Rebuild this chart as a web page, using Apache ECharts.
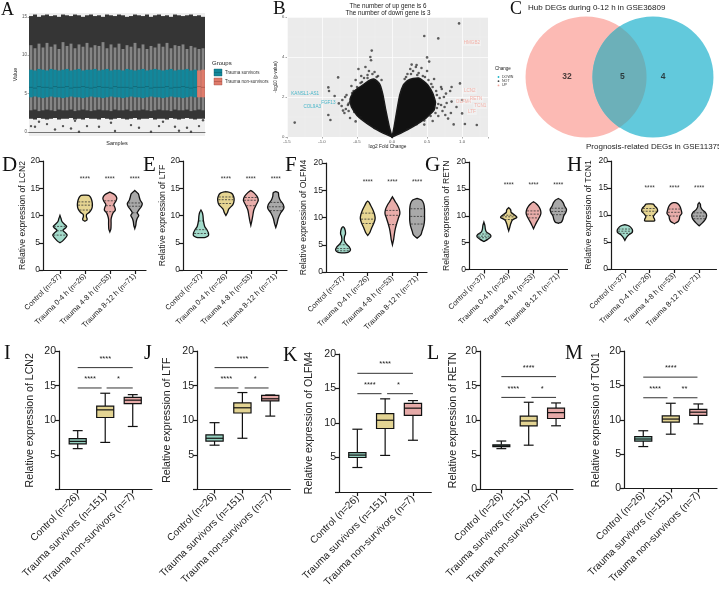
<!DOCTYPE html>
<html><head><meta charset="utf-8">
<script src="https://cdn.jsdelivr.net/npm/echarts@6/dist/echarts.min.js"></script>
<style>html,body{margin:0;padding:0;background:#fff}#c{width:719px;height:598px}</style>
</head><body><div id="c"></div>
<script>
// ================= DATA =================
// ---- Panel A: per-sample expression distribution (GSE36809) ----
const aSamples = ['S1','S2','S3','S4','S5','S6','S7','S8','S9','S10','S11','S12','S13','S14','S15','S16','S17','S18','S19','S20','S21','S22','S23','S24','S25','S26','S27','S28','S29','S30','S31','S32','S33','S34','S35','S36','S37','S38','S39','S40','S41','S42','S43','S44'];
const aGroups = ['Trauma survivors','Trauma survivors','Trauma survivors','Trauma survivors','Trauma survivors','Trauma survivors','Trauma survivors','Trauma survivors','Trauma survivors','Trauma survivors','Trauma survivors','Trauma survivors','Trauma survivors','Trauma survivors','Trauma survivors','Trauma survivors','Trauma survivors','Trauma survivors','Trauma survivors','Trauma survivors','Trauma survivors','Trauma survivors','Trauma survivors','Trauma survivors','Trauma survivors','Trauma survivors','Trauma survivors','Trauma survivors','Trauma survivors','Trauma survivors','Trauma survivors','Trauma survivors','Trauma survivors','Trauma survivors','Trauma survivors','Trauma survivors','Trauma survivors','Trauma survivors','Trauma survivors','Trauma survivors','Trauma survivors','Trauma survivors','Trauma non-survivors','Trauma non-survivors'];
const aHiMax  = [15.1,15.3,15.0,15.2,15.3,15.1,15.2,15.0,15.3,15.2,15.1,15.3,15.2,15.0,15.2,15.3,15.1,15.2,15.0,15.3,15.2,15.1,15.3,15.2,15.0,15.1,15.3,15.2,15.1,15.3,15.0,15.2,15.3,15.1,15.2,15.0,15.3,15.2,15.1,15.2,15.3,15.1,15.2,15.0];
const aWhiskHi= [11.3,10.9,11.5,11.0,11.6,11.1,11.4,10.8,11.7,11.2,11.5,10.9,11.4,11.1,11.6,11.0,11.3,11.2,11.7,10.9,11.4,11.0,11.5,10.8,11.3,11.1,11.6,10.9,11.4,10.8,11.2,11.0,11.5,11.1,11.6,10.9,11.3,11.2,11.4,10.8,11.2,11.0,10.8,10.9];
const aQ3     = [8.1,8.0,8.2,8.1,8.0,8.2,8.1,8.0,8.1,8.2,8.0,8.1,8.2,8.0,8.1,8.1,8.2,8.0,8.1,8.2,8.0,8.1,8.1,8.0,8.2,8.1,8.0,8.1,8.2,8.0,8.1,8.2,8.1,8.0,8.1,8.2,8.0,8.1,8.1,8.2,8.0,8.1,8.0,8.1];
const aMed    = [5.8,5.7,5.9,5.8,5.8,5.7,5.9,5.8,5.8,5.9,5.7,5.8,5.8,5.9,5.8,5.7,5.8,5.9,5.8,5.8,5.7,5.9,5.8,5.8,5.8,5.7,5.9,5.8,5.8,5.9,5.7,5.8,5.8,5.8,5.9,5.7,5.8,5.8,5.9,5.8,5.7,5.8,5.9,5.8];
const aQ1     = [4.5,4.6,4.5,4.4,4.5,4.6,4.5,4.5,4.4,4.5,4.6,4.5,4.5,4.4,4.5,4.6,4.5,4.5,4.4,4.5,4.6,4.5,4.5,4.4,4.5,4.6,4.5,4.5,4.4,4.5,4.6,4.5,4.5,4.4,4.5,4.6,4.5,4.5,4.4,4.5,4.6,4.5,4.5,4.5];
const aWhiskLo= [2.8,2.9,2.7,2.8,2.9,2.8,2.7,2.9,2.8,2.8,2.9,2.7,2.8,2.9,2.8,2.7,2.8,2.9,2.8,2.8,2.7,2.9,2.8,2.8,2.9,2.7,2.8,2.8,2.9,2.8,2.7,2.8,2.9,2.8,2.8,2.7,2.9,2.8,2.8,2.9,2.7,2.8,2.9,2.8];
const aLoMin  = [1.7,1.6,1.8,1.7,1.6,1.7,1.8,1.6,1.7,1.7,1.8,1.6,1.7,1.6,1.8,1.7,1.7,1.6,1.8,1.7,1.6,1.7,1.8,1.7,1.6,1.7,1.8,1.6,1.7,1.7,1.8,1.6,1.7,1.7,1.6,1.8,1.7,1.6,1.7,1.8,1.7,1.6,1.7,1.7];
const aOutliers = [[0,0.74],[1,0.65],[2,1.3],[4,1.0],[6,0.3],[8,0.74],[10,0.43],[11,1.43],[12,0.0],[14,0.74],[17,0.65],[20,1.17],[21,0.1],[25,0.87],[27,0.52],[30,0.0],[32,0.74],[33,1.3],[36,0.65],[37,0.13],[39,0.52],[40,0.0],[42,0.74],[43,1.5]];
const aTicks = [0,5,10,15];

// ---- Panel B: volcano (GSE11375) ----
const bTitle = ['The number of up gene is 6','The number of down gene is 3'];
const bCloudLeft  = [[0,0],[-0.17,0.27],[-0.35,0.66],[-0.5,1.08],[-0.58,1.5],[-0.6,1.9],[-0.55,2.25],[-0.46,2.5],[-0.38,2.7],[-0.31,2.85],[-0.26,2.9],[-0.21,2.78],[-0.17,2.6],[-0.13,2.1],[-0.09,1.35],[-0.04,0.52],[0,0]];
const bCloudRight = [[0,0],[0.03,0.52],[0.07,1.35],[0.11,2.1],[0.16,2.6],[0.22,2.82],[0.30,2.92],[0.38,2.95],[0.45,2.8],[0.51,2.6],[0.58,2.2],[0.62,1.75],[0.6,1.35],[0.48,0.93],[0.30,0.52],[0.14,0.22],[0,0]];
const bNotPoints = [[0.957,5.68],[0.46,5.05],[0.66,4.93],[-0.29,4.32],[-0.31,4.0],[-0.30,3.84],[-0.48,3.4],[-0.77,2.98],[-0.91,2.48],[-0.9,2.3],[-1.39,0.72],[-0.91,1.1],[-0.88,0.85],[0.5,3.98],[0.53,3.77],[0.35,3.6],[0.97,2.68],[1.0,1.85],[1.21,0.6],[1.04,0.65],[0.85,1.77],[0.84,1.2],[0.77,2.17],[0.7,2.5],[-0.65,2.1],[-0.71,1.85],[-0.62,1.67],[-0.55,2.3],[0.85,2.5],[0.83,2.3],[0.88,0.63],[0.76,1.1],[1.0,1.18],[-0.35,3.1],[-0.4,2.95],[-0.25,3.25],[-0.45,2.7],[-0.66,1.4],[-0.68,1.2],[-0.6,0.95],[-0.52,0.78],[-0.72,1.55],[-0.2,3.05],[-0.15,2.85],[0.18,2.9],[0.22,3.15],[0.3,3.3],[0.38,3.2],[0.47,3.0],[0.56,2.65],[0.63,2.3],[0.68,1.95],[0.7,1.6],[0.72,1.3],[0.66,1.05],[0.58,0.8],[0.46,0.62],[0.75,1.5],[0.42,3.45],[0.28,3.62],[-0.38,3.5],[-0.52,2.85],[-0.7,1.32],[-0.76,1.68],[0.8,0.92],[0.74,2.0],[0.92,1.5],[-0.82,2.05],[-0.33,3.3],[-0.44,3.05],[0.26,3.4],[0.34,3.5],[0.5,3.3],[0.6,2.9],[-0.58,2.55],[-0.67,2.0],[0.71,2.4],[0.78,1.7],
  [-0.6,1.75],[-0.63,1.6],[-0.57,2.2],[-0.5,2.5],[-0.43,2.75],[-0.35,2.95],[-0.28,3.15],[-0.22,3.0],[-0.45,1.0],[-0.35,0.72],[-0.25,0.45],[-0.62,1.3],[-0.54,1.25],
  [0.2,3.0],[0.27,3.15],[0.36,3.1],[0.44,3.05],[0.52,2.85],[0.58,2.5],[0.64,2.1],[0.66,1.65],[0.62,1.2],[0.46,0.82],[0.35,0.64],[0.22,0.4],[0.55,1.05],[0.64,1.45]];
const bUpGenes = [[1.14,4.7,'HMGB2'],[1.11,2.3,'LCN2'],[1.02,1.78,'OLFM4'],[1.2,1.9,'RETN'],[1.26,1.55,'TCN1'],[1.14,1.25,'LTF']];
const bDownGenes = [[-1.24,2.15,'KANSL1-AS1'],[-0.91,1.72,'FGF13'],[-1.14,1.52,'COL9A3']];
const bChange = ['DOWN','NOT','UP'];

// ---- Panel C: Venn ----
const cSetNames = ['Hub DEGs during 0-12 h in GSE36809','Prognosis-related DEGs in GSE11375'];
const cCounts = [32, 5, 4]; // left only, both, right only

// ---- Panels D-H: violins ----
const violinGroups = ['Control (n=37)','Trauma 0-4 h (n=26)','Trauma 4-8 h (n=53)','Trauma 8-12 h (n=71)'];
const violinLCN2 = [
  [[5.0,0],[5.3,0.1],[5.9,0.22],[6.4,0.29],[6.9,0.2],[7.3,0.12],[7.7,0.22],[8.0,0.27],[8.4,0.18],[8.9,0.08],[9.5,0.04],[10.0,0]],
  [[8.96,0],[9.1,0.07],[9.4,0.09],[9.8,0.06],[10.2,0.07],[10.6,0.18],[11.2,0.27],[11.8,0.3],[12.5,0.29],[13.1,0.25],[13.5,0.2],[13.7,0.15],[13.75,0]],
  [[7.0,0],[7.5,0.04],[8.5,0.05],[9.3,0.05],[9.9,0.08],[10.4,0.12],[11.0,0.22],[11.5,0.2],[12.0,0.16],[12.6,0.24],[13.2,0.28],[13.8,0.2],[14.3,0]],
  [[7.6,0],[8.2,0.04],[8.9,0.06],[9.5,0.1],[10.0,0.16],[10.5,0.1],[11.0,0.16],[11.6,0.26],[12.2,0.3],[12.8,0.22],[13.4,0.18],[14.0,0.14],[14.6,0]]];
const quartLCN2 = [[6.4,7.2,8.0],[11.0,11.9,12.5],[10.7,11.8,12.7],[10.5,11.7,12.3]];
const violinLTF = [
  [[5.95,0],[6.0,0.18],[6.3,0.3],[6.8,0.3],[7.3,0.25],[8.0,0.15],[9.0,0.1],[10.0,0.08],[10.6,0.05],[11.0,0]],
  [[10.0,0],[10.5,0.06],[11.2,0.12],[12.0,0.28],[12.8,0.33],[13.5,0.31],[14.1,0.22],[14.4,0]],
  [[8.2,0],[9.0,0.04],[10.0,0.08],[11.0,0.12],[12.0,0.22],[12.8,0.3],[13.5,0.25],[14.2,0.12],[14.6,0]],
  [[7.8,0],[8.5,0.05],[9.5,0.1],[10.5,0.2],[11.3,0.32],[12.0,0.3],[12.8,0.18],[13.5,0.12],[14.2,0.1],[14.4,0]]];
const quartLTF = [[6.7,7.4,9.0],[12.2,12.9,13.4],[11.8,12.8,13.3],[10.9,11.6,12.4]];
const violinOLFM4 = [
  [[3.5,0],[3.6,0.2],[4.0,0.3],[4.6,0.25],[5.2,0.12],[5.8,0.05],[6.5,0.06],[7.0,0.1],[7.6,0.09],[8.1,0.05],[8.3,0]],
  [[6.7,0],[7.2,0.08],[8.0,0.15],[9.0,0.25],[9.8,0.3],[10.5,0.28],[11.3,0.22],[12.2,0.12],[12.8,0.05],[13.0,0]],
  [[5.0,0],[6.0,0.05],[7.0,0.08],[8.0,0.12],[9.0,0.18],[10.0,0.25],[10.7,0.3],[11.5,0.28],[12.3,0.2],[13.0,0.1],[13.8,0]],
  [[6.2,0],[6.8,0.15],[7.5,0.2],[8.5,0.27],[9.5,0.3],[10.5,0.3],[11.5,0.3],[12.5,0.27],[13.2,0.18],[13.5,0]]];
const quartOLFM4 = [[3.9,4.3,5.0],[8.9,9.7,10.8],[8.7,10.4,11.3],[8.8,10.2,11.6]];
const violinRETN = [
  [[5.2,0],[5.6,0.15],[6.1,0.28],[6.5,0.25],[7.0,0.1],[7.5,0.06],[8.2,0.04],[8.8,0]],
  [[7.2,0],[7.8,0.04],[8.5,0.08],[9.2,0.15],[9.7,0.33],[10.1,0.25],[10.6,0.1],[11.1,0.08],[11.5,0]],
  [[7.6,0],[8.2,0.06],[9.0,0.15],[9.8,0.25],[10.5,0.3],[11.2,0.27],[11.8,0.2],[12.3,0.1],[12.6,0]],
  [[8.6,0],[8.8,0.12],[9.3,0.18],[10.0,0.22],[10.6,0.3],[11.2,0.33],[11.8,0.25],[12.4,0.2],[12.9,0.12],[13.2,0]]];
const quartRETN = [[5.9,6.2,6.6],[9.3,9.8,10.1],[9.6,10.3,10.9],[10.2,10.8,11.4]];
const violinTCN1 = [
  [[5.3,0],[5.8,0.06],[6.3,0.15],[6.8,0.3],[7.3,0.3],[7.8,0.22],[8.1,0.1],[8.2,0]],
  [[8.85,0],[8.9,0.2],[9.2,0.2],[9.7,0.15],[10.2,0.22],[10.7,0.32],[11.2,0.3],[11.7,0.2],[12.0,0.15],[12.05,0]],
  [[8.4,0],[8.8,0.15],[9.3,0.2],[9.8,0.22],[10.3,0.3],[10.8,0.28],[11.3,0.25],[11.8,0.2],[12.2,0.1],[12.3,0]],
  [[8.0,0],[8.5,0.12],[9.0,0.22],[9.5,0.28],[10.0,0.3],[10.5,0.25],[11.0,0.12],[11.5,0.06],[12.0,0.05],[12.3,0]]];
const quartTCN1 = [[6.6,7.0,7.4],[9.9,10.7,11.2],[9.8,10.5,11.1],[9.3,9.8,10.4]];
const violinStarY = [17.0, 16.9, 16.7, 16.0, 15.3];

// ---- Panels I-M: boxplots [min, q1, median, q3, max] ----
const boxGroups = ['Control (n=26)','Trauma survivors (n=151)','Trauma non-survivors (n=7)'];
const boxLCN2  = [[5.9,6.6,6.95,7.35,8.5],[6.8,10.4,11.5,12.05,13.9],[9.1,12.4,12.9,13.3,13.7]];
const boxLTF   = [[6.4,7.0,7.4,7.9,9.65],[7.4,11.05,11.8,12.5,14.0],[10.6,12.8,13.1,13.6,13.65]];
const boxOLFM4 = [[3.55,5.0,5.35,5.7,9.1],[5.3,9.2,10.4,11.35,13.5],[7.5,11.1,12.15,12.85,13.25]];
const boxRETN  = [[5.9,6.2,6.3,6.45,7.0],[6.4,9.2,9.9,10.6,12.6],[9.2,10.25,11.1,11.75,12.5]];
const boxTCN1  = [[6.1,6.9,7.2,7.55,8.4],[7.9,9.65,10.1,10.55,12.4],[9.4,10.65,11.1,11.5,12.3]];
// significance: [x0, x1, y] and labels [x, y, text]
const sigLCN2  = {lines:[[0,2,17.6],[0,0.87,14.66],[1.05,2,14.66]], texts:[[1,19.1,'****'],[0.45,16.25,'****'],[1.48,16.25,'*']]};
const sigLTF   = {lines:[[0,1.94,17.6],[0,0.86,14.66],[1.08,1.94,14.66]], texts:[[1,19.1,'****'],[0.42,16.25,'****'],[1.46,16.25,'*']]};
const sigOLFM4 = {lines:[[0,2,17.2],[0,0.87,14.25],[1.07,2,14.25]], texts:[[1,18.9,'****'],[0.45,15.85,'****'],[1.48,15.85,'*']]};
const sigRETN  = {lines:[[0,2,16.3],[0,0.88,13.3],[1.1,2,13.3]], texts:[[1,17.8,'****'],[0.44,14.85,'****'],[1.49,14.85,'*']]};
const sigTCN1  = {lines:[[0,1.97,16.2],[0,0.88,13.2],[1.09,1.97,13.2]], texts:[[1,17.8,'****'],[0.43,14.8,'****'],[1.5,14.8,'**']]};

// ================= BUILD =================
const SANS = 'Liberation Sans, Arial, sans-serif';
const SERIF = 'Liberation Serif, Times New Roman, serif';
const violinColors = ['#A3DBCB','#E6D592','#E9ADAA','#A9A9A9'];
const boxColors = ['#95D1C0','#E3D493','#E6AAA8'];
const BL = {color:'#1a1a1a', width:1.2};

const grids = [], xAxes = [], yAxes = [], series = [], graphics = [];

function widthAt(prof, v){
  for (let k=0;k<prof.length-1;k++){
    const a=prof[k], b=prof[k+1];
    if (v>=a[0] && v<=b[0]) { const t=(v-a[0])/((b[0]-a[0])||1); return a[1]+(b[1]-a[1])*t; }
  }
  return 0;
}

// ---------- Panel A ----------
(function(){
  const gi = grids.length;
  grids.push({left:29, top:13, width:176, height:123, show:true, backgroundColor:'#EFEFEF', borderWidth:0, outerBoundsMode:'none'});
  xAxes.push({gridIndex:gi, type:'category', data:aSamples, boundaryGap:true, name:'Samples', nameLocation:'middle', nameGap:4,
    nameTextStyle:{fontSize:5.5, color:'#222', fontFamily:SANS},
    axisLine:{show:true, lineStyle:{color:'#555', width:0.8}}, axisTick:{show:false}, axisLabel:{show:false}, splitLine:{show:false}});
  yAxes.push({gridIndex:gi, type:'value', min:-0.55, max:15.5, name:'Value', nameLocation:'middle', nameGap:9,
    nameTextStyle:{fontSize:5.5, color:'#222', fontFamily:SANS},
    axisLine:{show:false}, axisTick:{show:true, customValues:aTicks, length:1.5, lineStyle:{color:'#666', width:0.5}},
    axisLabel:{customValues:aTicks, fontSize:4.5, color:'#555', margin:2, fontFamily:SANS}, splitLine:{show:false}});
  series.push({type:'custom', xAxisIndex:gi, yAxisIndex:gi, data:aSamples.map((s,i)=>[i]),
    renderItem(params, api){
      const i = api.value(0);
      const bw = api.size([1,0])[0];
      const cx = api.coord([i,0])[0];
      const y = v => api.coord([i,v])[1];
      const col = aGroups[i]==='Trauma survivors' ? '#12879B' : '#DF7B6B';
      const colDark = aGroups[i]==='Trauma survivors' ? '#0B5A68' : '#9A4A3E';
      const ch = [];
      ch.push({type:'rect', shape:{x:cx-bw/2, y:y(aHiMax[i]), width:bw, height:y(aLoMin[i])-y(aHiMax[i])}, style:{fill:'#353535'}});
      ch.push({type:'rect', shape:{x:cx-bw*0.36, y:y(aWhiskHi[i]), width:bw*0.72, height:y(aWhiskLo[i])-y(aWhiskHi[i])}, style:{fill:'#858585'}});
      ch.push({type:'rect', shape:{x:cx-bw*0.47, y:y(aQ3[i]), width:bw*0.94, height:y(aQ1[i])-y(aQ3[i])}, style:{fill:col}});
      ch.push({type:'line', shape:{x1:cx-bw*0.47, y1:y(aMed[i]), x2:cx+bw*0.47, y2:y(aMed[i])}, style:{stroke:colDark, lineWidth:0.6}});
      return {type:'group', children:ch};
    }});
  series.push({type:'scatter', xAxisIndex:gi, yAxisIndex:gi, data:aOutliers, symbolSize:2.4, itemStyle:{color:'#2a2a2a'}, silent:true});
  graphics.push({type:'text', x:212, y:60, style:{text:'Groups', fontSize:6, fill:'#222', fontFamily:SANS}});
  graphics.push({type:'rect', shape:{x:214, y:69, width:8, height:7}, style:{fill:'#12879B', stroke:'#0B5A68', lineWidth:0.4}});
  graphics.push({type:'line', shape:{x1:214, y1:72.5, x2:222, y2:72.5}, style:{stroke:'#0B5A68', lineWidth:0.5}});
  graphics.push({type:'rect', shape:{x:214, y:78, width:8, height:7}, style:{fill:'#DF7B6B', stroke:'#9A4A3E', lineWidth:0.4}});
  graphics.push({type:'line', shape:{x1:214, y1:81.5, x2:222, y2:81.5}, style:{stroke:'#9A4A3E', lineWidth:0.5}});
  graphics.push({type:'text', x:225, y:70.3, style:{text:'Trauma survivors', fontSize:4.5, fill:'#333', fontFamily:SANS}});
  graphics.push({type:'text', x:225, y:79.3, style:{text:'Trauma non-survivors', fontSize:4.5, fill:'#333', fontFamily:SANS}});
})();

// ---------- Panel B ----------
(function(){
  const gi = grids.length;
  grids.push({left:287, top:17, width:201, height:120, show:true, backgroundColor:'#EBEBEB', borderWidth:0, outerBoundsMode:'none'});
  const isHalf = v => Math.abs(v*2-Math.round(v*2))<1e-6;
  xAxes.push({gridIndex:gi, type:'value', min:-1.5, max:1.37, interval:0.5, name:'log2 Fold Change', nameLocation:'middle', nameGap:7,
    nameTextStyle:{fontSize:4.8, color:'#222', fontFamily:SANS},
    axisLine:{show:false, onZero:false}, axisTick:{show:true, length:1.5, lineStyle:{color:'#555', width:0.5}},
    axisLabel:{fontSize:4.3, color:'#555', margin:2.5, fontFamily:SANS, formatter:v=>isHalf(v)?v.toFixed(1):''},
    splitLine:{show:true, lineStyle:{color:'#fff', width:0.7}}, minorTick:{show:false, splitNumber:2}, minorSplitLine:{show:true, lineStyle:{color:'#F6F6F6', width:0.35}}});
  yAxes.push({gridIndex:gi, type:'value', min:0, max:6, interval:2, name:'-log10 (p-value)', nameLocation:'middle', nameGap:7,
    nameTextStyle:{fontSize:4.5, color:'#222', fontFamily:SANS},
    axisLine:{show:false, onZero:false}, axisTick:{show:true, length:1.5, lineStyle:{color:'#555', width:0.5}},
    axisLabel:{fontSize:4.3, color:'#555', margin:2.5, fontFamily:SANS},
    splitLine:{show:true, lineStyle:{color:'#fff', width:0.7}}, minorTick:{show:false, splitNumber:2}, minorSplitLine:{show:true, lineStyle:{color:'#F6F6F6', width:0.35}}});
  const clouds = [bCloudLeft, bCloudRight];
  series.push({type:'custom', xAxisIndex:gi, yAxisIndex:gi, data:[[0],[1]], renderItem(params, api){
    const i = api.value(0);
    return {type:'polygon', shape:{points:clouds[i].map(p=>api.coord(p)), smooth:0.12}, style:{fill:'#111', stroke:'#1a1a1a', lineWidth:1.5}};
  }});
  series.push({type:'scatter', name:'NOT', xAxisIndex:gi, yAxisIndex:gi, data:bNotPoints, symbolSize:2.6, itemStyle:{color:'rgba(25,25,25,0.85)'}, silent:true});
  series.push({type:'scatter', name:'UP', xAxisIndex:gi, yAxisIndex:gi, data:bUpGenes, symbolSize:0.1,
    label:{show:true, position:'inside', formatter:p=>p.value[2], fontSize:4.6, color:'#F2A196', fontFamily:SANS, backgroundColor:'rgba(255,255,255,0.4)', padding:[0.5,1]}});
  series.push({type:'scatter', name:'DOWN', xAxisIndex:gi, yAxisIndex:gi, data:bDownGenes, symbolSize:0.1,
    label:{show:true, position:'inside', formatter:p=>p.value[2], fontSize:4.6, color:'#1EA9C0', fontFamily:SANS}});
  graphics.push({type:'text', x:388, y:6.5, style:{text:bTitle[0], fontSize:6.3, fill:'#222', fontFamily:SANS, align:'center', verticalAlign:'middle'}});
  graphics.push({type:'text', x:388, y:13.5, style:{text:bTitle[1], fontSize:6.3, fill:'#222', fontFamily:SANS, align:'center', verticalAlign:'middle'}});
  const lc = ['#1EB5C8','#444','#F4A79C'];
  graphics.push({type:'text', x:495, y:69, style:{text:'Change', fontSize:4.5, fill:'#222', fontFamily:SANS, verticalAlign:'middle'}});
  bChange.forEach((n,k)=>{
    graphics.push({type:'circle', shape:{cx:498.5, cy:77+k*4.2, r:0.9}, style:{fill:lc[k]}});
    graphics.push({type:'text', x:502, y:77+k*4.2, style:{text:n, fontSize:3.6, fill:'#333', fontFamily:SANS, verticalAlign:'middle'}});
  });
})();

// ---------- Panel C (Venn) ----------
(function(){
  const gi = grids.length;
  grids.push({left:500, top:17, width:239, height:120, outerBoundsMode:'none'});
  xAxes.push({gridIndex:gi, type:'value', min:-2, max:2, show:false});
  yAxes.push({gridIndex:gi, type:'value', min:-1, max:1, show:false});
  const centers = [[-0.56,0],[0.56,0]];
  series.push({type:'custom', xAxisIndex:gi, yAxisIndex:gi, data:[[0]], silent:true, renderItem(params, api){
    const L = api.coord(centers[0]), R = api.coord(centers[1]);
    const r = 60.5;
    const d = R[0]-L[0];
    const th = Math.acos((d/2)/r);
    const pts = [];
    const n = 40;
    for (let k=0;k<=n;k++){ const a = -th + 2*th*k/n; pts.push([L[0]+r*Math.cos(a), L[1]+r*Math.sin(a)]); }
    for (let k=0;k<=n;k++){ const a = Math.PI - th + 2*th*k/n; pts.push([R[0]+r*Math.cos(a), R[1]+r*Math.sin(a)]); }
    return {type:'group', children:[
      {type:'circle', shape:{cx:L[0], cy:L[1], r:r}, style:{fill:'#FCBAB4'}},
      {type:'circle', shape:{cx:R[0], cy:R[1], r:r}, style:{fill:'#62C9DC'}},
      {type:'polygon', shape:{points:pts}, style:{fill:'#6CB0B9'}}
    ]};
  }});
  series.push({type:'scatter', xAxisIndex:gi, yAxisIndex:gi, z:4,
    data:[[-0.88,0,cCounts[0]],[0.05,0,cCounts[1]],[0.73,0,cCounts[2]]], symbolSize:0.1,
    label:{show:true, position:'inside', formatter:p=>String(p.value[2]), fontSize:8.5, fontWeight:'bold', color:'#1a1a1a', fontFamily:SANS}});
  graphics.push({type:'text', x:528, y:8, style:{text:cSetNames[0], fontSize:8, fill:'#222', fontFamily:SANS, verticalAlign:'middle'}});
  graphics.push({type:'text', x:586, y:147, style:{text:cSetNames[1], fontSize:8, fill:'#222', fontFamily:SANS, verticalAlign:'middle'}});
})();

// ---------- Violin panels ----------
function violinPanel(cfg){
  const gi = grids.length;
  grids.push({left:cfg.left, top:cfg.top, width:cfg.width, height:cfg.height, outerBoundsMode:'none'});
  xAxes.push({gridIndex:gi, type:'value', min:cfg.xmin, max:cfg.xmax,
    axisLine:{show:true, onZero:false, lineStyle:BL}, axisTick:{show:true, customValues:[0,1,2,3], length:4, lineStyle:BL},
    axisLabel:{customValues:[0,1,2,3], formatter:v=>violinGroups[Math.round(v)], rotate:45, fontSize:7.5, color:'#222', fontFamily:SANS, margin:5},
    splitLine:{show:false}});
  yAxes.push({gridIndex:gi, type:'value', min:0, max:20, interval:5, name:cfg.name, nameLocation:'middle', nameGap:cfg.nameGap,
    nameTextStyle:{fontSize:8.6, color:'#222', fontFamily:SANS},
    axisLine:{show:true, onZero:false, lineStyle:BL}, axisTick:{show:true, length:4, lineStyle:BL},
    axisLabel:{fontSize:8.5, color:'#222', fontFamily:SANS, margin:3}, splitLine:{show:false}});
  const prof = cfg.profiles, qs = cfg.quarts;
  series.push({type:'custom', xAxisIndex:gi, yAxisIndex:gi, data:prof.map((p,i)=>[i]), renderItem(params, api){
    const i = api.value(0);
    const P = prof[i];
    const right = P.map(p=>api.coord([i+p[1], p[0]]));
    const left = P.slice().reverse().map(p=>api.coord([i-p[1], p[0]]));
    const ch = [{type:'polygon', shape:{points:right.concat(left), smooth:0.3}, style:{fill:violinColors[i], stroke:'#111', lineWidth:1.3}}];
    qs[i].forEach((q,k)=>{
      const hw = widthAt(P,q)*0.92;
      const a = api.coord([i-hw,q]), b = api.coord([i+hw,q]);
      ch.push({type:'line', shape:{x1:a[0],y1:a[1],x2:b[0],y2:b[1]}, style:{stroke:'#333', lineWidth:0.8, lineDash:[2,1.3]}});
    });
    return {type:'group', children:ch};
  }});
  series.push({type:'custom', xAxisIndex:gi, yAxisIndex:gi, data:[[1],[2],[3]], renderItem(params, api){
    const c = api.coord([api.value(0), cfg.starY]);
    return {type:'text', x:c[0], y:c[1]+1.5, style:{text:'****', fontSize:6.5, fill:'#333', fontFamily:SANS, align:'center', verticalAlign:'middle'}};
  }});
}
violinPanel({left:43, top:161, width:103, height:109, xmin:-0.68, xmax:3.45, name:'Relative expression of LCN2', nameGap:15, profiles:violinLCN2, quarts:quartLCN2, starY:violinStarY[0]});
violinPanel({left:183, top:161, width:104, height:109, xmin:-0.72, xmax:3.45, name:'Relative expression of LTF', nameGap:15, profiles:violinLTF, quarts:quartLTF, starY:violinStarY[1]});
violinPanel({left:326, top:163, width:101, height:109, xmin:-0.69, xmax:3.4, name:'Relative expression of OLFM4', nameGap:18, profiles:violinOLFM4, quarts:quartOLFM4, starY:violinStarY[2]});
violinPanel({left:469, top:162, width:98.5, height:107.5, xmin:-0.6, xmax:3.37, name:'Relative expression of RETN', nameGap:18, profiles:violinRETN, quarts:quartRETN, starY:violinStarY[3]});
violinPanel({left:611, top:161, width:105.5, height:108, xmin:-0.56, xmax:3.7, name:'Relative expression of TCN1', nameGap:18, profiles:violinTCN1, quarts:quartTCN1, starY:violinStarY[4]});

// ---------- Box panels ----------
function boxPanel(cfg){
  const gi = grids.length;
  grids.push({left:cfg.left, top:cfg.top, width:cfg.width, height:cfg.height, outerBoundsMode:'none'});
  xAxes.push({gridIndex:gi, type:'value', min:cfg.xmin, max:cfg.xmax,
    axisLine:{show:true, onZero:false, lineStyle:BL}, axisTick:{show:true, customValues:[0,1,2], length:4, lineStyle:BL},
    axisLabel:{customValues:[0,1,2], formatter:v=>boxGroups[Math.round(v)], rotate:45, fontSize:10, color:'#222', fontFamily:SANS, margin:5},
    splitLine:{show:false}});
  yAxes.push({gridIndex:gi, type:'value', min:0, max:20, interval:5, name:cfg.name, nameLocation:'middle', nameGap:cfg.nameGap,
    nameTextStyle:{fontSize:10.6, color:'#222', fontFamily:SANS},
    axisLine:{show:true, onZero:false, lineStyle:BL}, axisTick:{show:true, length:4, lineStyle:BL},
    axisLabel:{fontSize:10.5, color:'#222', fontFamily:SANS, margin:3, formatter:v=>(v===0 && !cfg.showZero)?'':String(v)}, splitLine:{show:false}});
  const B = cfg.boxes;
  series.push({type:'custom', xAxisIndex:gi, yAxisIndex:gi, data:B.map((b,i)=>[i]), renderItem(params, api){
    const i = api.value(0), b = B[i];
    const p = (x,v)=>api.coord([x,v]);
    const hw = 0.31, cw = 0.18;
    const ch = [];
    const lnS = {stroke:'#111', lineWidth:1.2};
    let a=p(i,b[0]), c=p(i,b[1]); ch.push({type:'line', shape:{x1:a[0],y1:a[1],x2:c[0],y2:c[1]}, style:lnS});
    a=p(i,b[3]); c=p(i,b[4]); ch.push({type:'line', shape:{x1:a[0],y1:a[1],x2:c[0],y2:c[1]}, style:lnS});
    [b[0],b[4]].forEach(v=>{const l=p(i-cw,v), r=p(i+cw,v); ch.push({type:'line', shape:{x1:l[0],y1:l[1],x2:r[0],y2:r[1]}, style:lnS});});
    const tl = p(i-hw,b[3]), br = p(i+hw,b[1]);
    ch.push({type:'rect', shape:{x:tl[0], y:tl[1], width:br[0]-tl[0], height:br[1]-tl[1]}, style:{fill:boxColors[i], stroke:'#111', lineWidth:1.2}});
    const ml = p(i-hw,b[2]), mr = p(i+hw,b[2]);
    ch.push({type:'line', shape:{x1:ml[0],y1:ml[1],x2:mr[0],y2:mr[1]}, style:lnS});
    return {type:'group', children:ch};
  }});
  const S = cfg.sig;
  series.push({type:'custom', xAxisIndex:gi, yAxisIndex:gi, data:S.lines.map((l,i)=>[i]), renderItem(params, api){
    const l = S.lines[api.value(0)];
    const a = api.coord([l[0], l[2]]), b = api.coord([l[1], l[2]]);
    return {type:'line', shape:{x1:a[0],y1:a[1],x2:b[0],y2:b[1]}, style:{stroke:'#333', lineWidth:1}};
  }});
  series.push({type:'custom', xAxisIndex:gi, yAxisIndex:gi, data:S.texts.map((t,i)=>[i]), renderItem(params, api){
    const t = S.texts[api.value(0)];
    const c = api.coord([t[0], t[1]]);
    return {type:'text', x:c[0], y:c[1]+2, style:{text:t[2], fontSize:7.5, fill:'#222', fontFamily:SANS, align:'center', verticalAlign:'middle'}};
  }});
}
boxPanel({left:59, top:351, width:93, height:138.5, xmin:-0.68, xmax:2.7, name:'Relative expression of LCN2', nameGap:23, boxes:boxLCN2, sig:sigLCN2, showZero:false});
boxPanel({left:197, top:351, width:93.3, height:138.5, xmin:-0.63, xmax:2.72, name:'Relative expression of LTF', nameGap:24, boxes:boxLTF, sig:sigLTF, showZero:false});
boxPanel({left:339, top:354, width:92.3, height:138, xmin:-0.66, xmax:2.66, name:'Relative expression of OLFM4', nameGap:24, boxes:boxOLFM4, sig:sigOLFM4, showZero:false});
boxPanel({left:480, top:351, width:93, height:138.5, xmin:-0.78, xmax:2.62, name:'Relative expression of RETN', nameGap:21, boxes:boxRETN, sig:sigRETN, showZero:true});
boxPanel({left:624, top:351, width:93, height:137.5, xmin:-0.7, xmax:2.68, name:'Relative expression of TCN1', nameGap:22, boxes:boxTCN1, sig:sigTCN1, showZero:true});

// ---------- Panel letters ----------
const letters = [['A',1,1.5,18],['B',273,-0.5,19],['C',510,0.5,18],['D',2,155,21],['E',143,155,21],['F',285,155,21],['G',425,155,21],['H',567,155,21],['I',4,344,20],['J',144,344,20],['K',283,346,20],['L',427,344,20],['M',565,344,20]];
letters.forEach(l=>graphics.push({type:'text', x:l[1], y:l[2], z:100, style:{text:l[0], fontSize:l[3], fontFamily:SERIF, fill:'#111', align:'left', verticalAlign:'top'}}));

const chart = echarts.init(document.getElementById('c'), null, {renderer:'canvas'});
chart.setOption({animation:false, backgroundColor:'#fff', textStyle:{fontFamily:SANS}, tooltip:{show:false},
  grid:grids, xAxis:xAxes, yAxis:yAxes, series:series, graphic:{elements:graphics}});
</script></body></html>
